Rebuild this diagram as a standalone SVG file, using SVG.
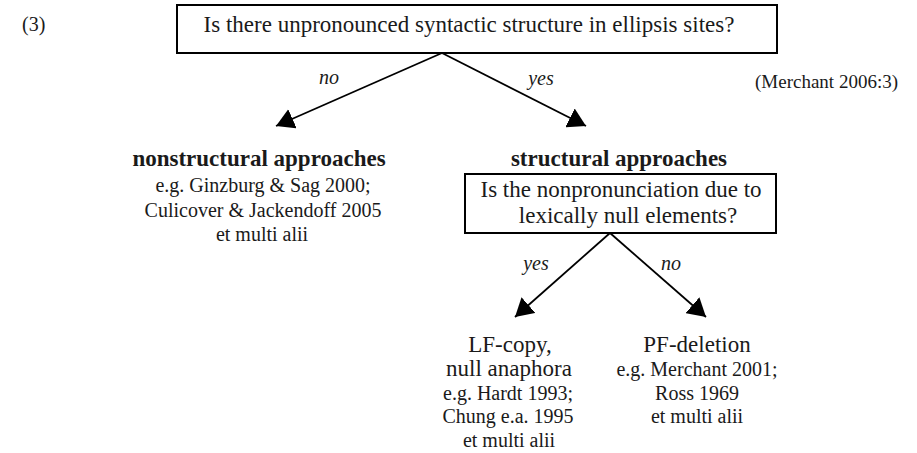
<svg xmlns="http://www.w3.org/2000/svg" width="917" height="453" viewBox="0 0 917 453">
  <style>
    text { font-family: "Liberation Serif", "Times New Roman", serif; fill: #1a1a1a; }
    .main { font-size: 23px; text-anchor: middle; }
    .head { font-size: 23px; font-weight: bold; text-anchor: middle; }
    .ref { font-size: 20px; text-anchor: middle; }
    .edge { font-size: 20px; font-style: italic; text-anchor: middle; }
    .box { fill: #fff; stroke: #000; stroke-width: 2; }
    .conn { stroke: #000; stroke-width: 1.8; fill: none; marker-end: url(#head); }
  </style>
  <defs>
    <marker id="head" viewBox="0 0 18 21" markerUnits="userSpaceOnUse" markerWidth="18" markerHeight="21" refX="18" refY="10.5" orient="auto">
      <path d="M0,0 L18,10.5 L0,21 Z" fill="#000"/>
    </marker>
  </defs>

  <rect width="917" height="453" fill="#fff"/>

  <!-- example number and source -->
  <text id="exnum" x="22" y="31" style="font-size:20px">(3)</text>
  <text id="source" x="898" y="88" style="font-size:19px;text-anchor:end">(Merchant 2006:3)</text>

  <!-- first question -->
  <g id="q-structure">
    <rect class="box" x="177" y="5" width="600" height="48"/>
    <text class="main" x="469" y="32">Is there unpronounced syntactic structure in ellipsis sites?</text>
  </g>

  <!-- nonstructural branch -->
  <g id="n-nonstructural">
    <text class="head" x="259" y="166">nonstructural approaches</text>
    <text class="ref" x="263" y="192">e.g. Ginzburg &amp; Sag 2000;</text>
    <text class="ref" x="263" y="217">Culicover &amp; Jackendoff 2005</text>
    <text class="ref" x="262" y="241">et multi alii</text>
  </g>

  <!-- structural branch with second question -->
  <g id="n-structural">
    <text class="head" x="619" y="166">structural approaches</text>
    <rect class="box" x="465" y="174" width="311" height="59"/>
    <text class="main" x="621" y="197">Is the nonpronunciation due to</text>
    <text class="main" x="628" y="223">lexically null elements?</text>
  </g>

  <!-- LF-copy leaf -->
  <g id="n-lfcopy">
    <text class="main" x="510" y="352">LF-copy,</text>
    <text class="main" x="509" y="376">null anaphora</text>
    <text class="ref" x="508" y="400">e.g. Hardt 1993;</text>
    <text class="ref" x="508" y="423">Chung e.a. 1995</text>
    <text class="ref" x="509" y="447">et multi alii</text>
  </g>

  <!-- PF-deletion leaf -->
  <g id="n-pfdeletion">
    <text class="main" x="697" y="352">PF-deletion</text>
    <text class="ref" x="697" y="376">e.g. Merchant 2001;</text>
    <text class="ref" x="697" y="400">Ross 1969</text>
    <text class="ref" x="697" y="423">et multi alii</text>
  </g>

  <!-- connectors -->
  <g id="connectors">
    <line class="conn" x1="442" y1="53" x2="276" y2="126"/>
    <line class="conn" x1="442" y1="53" x2="586" y2="126"/>
    <line class="conn" x1="610" y1="233" x2="515" y2="317"/>
    <line class="conn" x1="610" y1="233" x2="706" y2="317"/>
    <text class="edge" x="329" y="84">no</text>
    <text class="edge" x="541" y="85">yes</text>
    <text class="edge" x="536" y="270">yes</text>
    <text class="edge" x="671" y="270">no</text>
  </g>
</svg>
